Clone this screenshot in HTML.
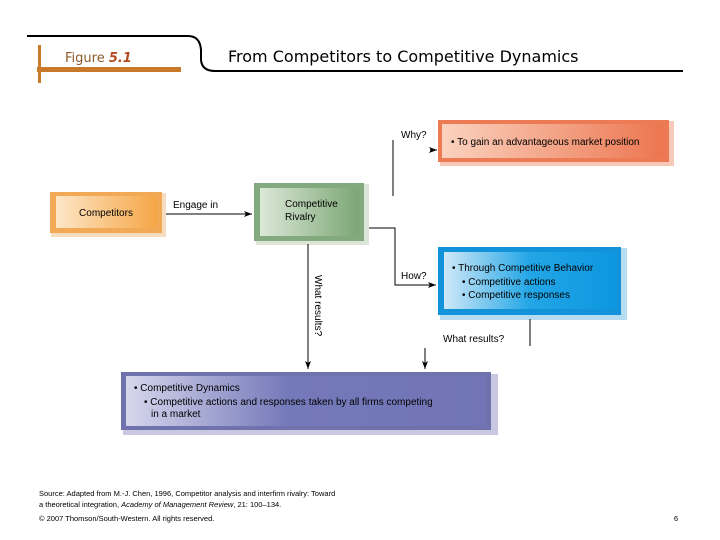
<!DOCTYPE html>
<html><head><meta charset="utf-8"><style>
html,body{margin:0;padding:0;background:#fff;}
svg{display:block;font-family:"Liberation Sans",Arial,sans-serif;}
</style></head><body>
<svg width="720" height="540" viewBox="0 0 720 540" xmlns="http://www.w3.org/2000/svg">
<defs>
<linearGradient id="go" x1="0" x2="1"><stop offset="0" stop-color="#fde6c6"/><stop offset="1" stop-color="#f5a646"/></linearGradient>
<linearGradient id="gg" x1="0" x2="1"><stop offset="0" stop-color="#dbe8d7"/><stop offset="1" stop-color="#7ca675"/></linearGradient>
<linearGradient id="gr" x1="0" x2="1"><stop offset="0" stop-color="#fbd2bf"/><stop offset="1" stop-color="#ec7650"/></linearGradient>
<linearGradient id="gb" x1="0" x2="1"><stop offset="0" stop-color="#cfe8f8"/><stop offset="0.5" stop-color="#22a6e6"/><stop offset="1" stop-color="#0d96df"/></linearGradient>
<linearGradient id="gp" x1="0" x2="1"><stop offset="0" stop-color="#d6d6ec"/><stop offset="0.45" stop-color="#7479b9"/><stop offset="1" stop-color="#7175b6"/></linearGradient>
<marker id="ar" markerWidth="8" markerHeight="6" refX="8" refY="3" orient="auto" markerUnits="userSpaceOnUse"><path d="M0,0 L8,3 L0,6 L2,3 z" fill="#000"/></marker>
</defs>
<!-- header -->
<path d="M27,36 L188,36 Q200,36 201,50 L201,60 Q202,71 215,71 L683,71" fill="none" stroke="#000" stroke-width="2"/>
<rect x="37" y="67" width="144" height="5" fill="#c8792a"/>
<rect x="38" y="45" width="3" height="38" fill="#c8792a"/>
<text x="65" y="62" font-size="13" fill="#8a5a2a" font-family="DejaVu Sans, sans-serif">Figure <tspan font-weight="bold" font-style="italic" fill="#b5491e">5.1</tspan></text>
<text x="228" y="62" font-size="16" fill="#000" font-family="DejaVu Sans, sans-serif">From Competitors to Competitive Dynamics</text>
<!-- competitors -->
<rect x="51" y="193" width="115" height="44" fill="#f7ddc0"/>
<rect x="50" y="192" width="112" height="41" fill="#f2a955"/>
<rect x="56" y="196" width="101" height="32" fill="url(#go)"/>
<text x="106" y="216" font-size="10" text-anchor="middle">Competitors</text>
<!-- rivalry -->
<rect x="256" y="184" width="113" height="61" fill="#dbe5d8"/>
<rect x="254" y="183" width="110" height="58" fill="#83a97f"/>
<rect x="260" y="188" width="99" height="48" fill="url(#gg)"/>
<text x="285" y="207" font-size="10">Competitive</text>
<text x="285" y="220" font-size="10">Rivalry</text>
<!-- why box -->
<rect x="440" y="121" width="234" height="45" fill="#f6c9b8"/>
<rect x="438" y="120" width="231" height="42" fill="#ec7b55"/>
<rect x="442" y="124" width="222" height="34" fill="url(#gr)"/>
<text x="451" y="145" font-size="10">• To gain an advantageous market position</text>
<!-- how box -->
<rect x="440" y="248" width="187" height="72" fill="#b7dcf2"/>
<rect x="438" y="247" width="183" height="68" fill="#1192d9"/>
<rect x="444" y="252" width="172" height="57" fill="url(#gb)"/>
<text x="452" y="271" font-size="10">• Through Competitive Behavior</text>
<text x="462" y="285" font-size="10">• Competitive actions</text>
<text x="462" y="298" font-size="10">• Competitive responses</text>
<!-- dynamics box -->
<rect x="123" y="374" width="375" height="61" fill="#c8c9e0"/>
<rect x="121" y="372" width="370" height="58" fill="#6f72ad"/>
<rect x="126" y="376" width="360" height="50" fill="url(#gp)"/>
<text x="134" y="391" font-size="10">• Competitive Dynamics</text>
<text x="144" y="405" font-size="10">• Competitive actions and responses taken by all firms competing</text>
<text x="151" y="417" font-size="10">in a market</text>
<!-- connectors -->
<line x1="166" y1="214" x2="252" y2="214" stroke="#000" stroke-width="1" marker-end="url(#ar)"/>
<text x="173" y="208" font-size="10">Engage in</text>
<line x1="393" y1="140" x2="393" y2="196" stroke="#000" stroke-width="1"/>
<line x1="430" y1="150" x2="437" y2="150" stroke="#000" stroke-width="1" marker-end="url(#ar)"/>
<text x="401" y="138" font-size="10">Why?</text>
<path d="M369,228 L395,228 L395,285 L436,285" fill="none" stroke="#000" stroke-width="1" marker-end="url(#ar)"/>
<text x="401" y="279" font-size="10">How?</text>
<line x1="308" y1="244" x2="308" y2="369" stroke="#000" stroke-width="1" marker-end="url(#ar)"/>
<text transform="translate(315,275) rotate(90)" font-size="10">What results?</text>
<line x1="530" y1="319" x2="530" y2="346" stroke="#000" stroke-width="1"/>
<line x1="425" y1="348" x2="425" y2="369" stroke="#000" stroke-width="1" marker-end="url(#ar)"/>
<text x="443" y="342" font-size="10">What results?</text>
<!-- footer -->
<text x="39" y="496" font-size="7.5">Source: Adapted from M.-J. Chen, 1996, Competitor analysis and interfirm rivalry: Toward</text>
<text x="39" y="507" font-size="7.5">a theoretical integration, <tspan font-style="italic">Academy of Management Review</tspan>, 21: 100–134.</text>
<text x="39" y="521" font-size="7.5">© 2007 Thomson/South-Western. All rights reserved.</text>
<text x="674" y="521" font-size="7.5">6</text>
</svg>
</body></html>
